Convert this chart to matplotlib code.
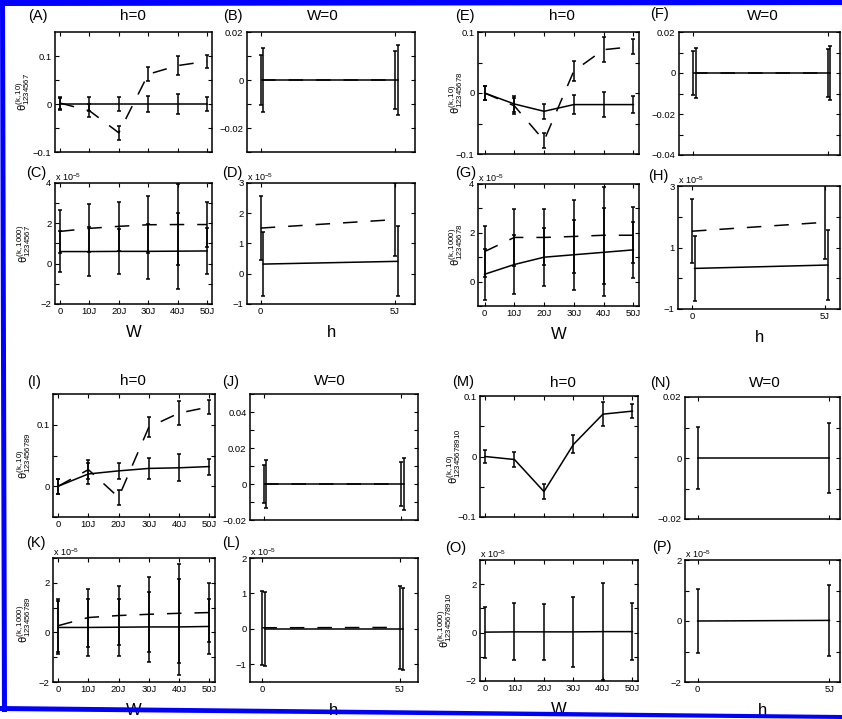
import matplotlib
matplotlib.use("Agg")
import matplotlib.pyplot as plt
from matplotlib.patches import Polygon
from matplotlib.ticker import FixedLocator, FixedFormatter

plt.rcParams["font.family"] = ["Liberation Sans", "DejaVu Sans"]
plt.rcParams["mathtext.fontset"] = "custom"
plt.rcParams["mathtext.rm"] = "Liberation Sans"
plt.rcParams["mathtext.it"] = "Liberation Sans"
plt.rcParams["axes.unicode_minus"] = True

W_PX, H_PX = 842, 719

# x values
w_vals = [0, 10, 20, 30, 40, 50]
w_labels = ["0", "10J", "20J", "30J", "40J", "50J"]
h_vals = [0, 5]
h_labels = ["0", "5J"]

# (A) h=0, k=10
a_solid = [0, 0, 0, 0, 0, 0]
a_solid_err = [0.012, 0.014, 0.014, 0.016, 0.021, 0.014]
a_dash = [0.002, -0.014, -0.06, 0.062, 0.08, 0.089]
a_dash_err = [0.012, 0.014, 0.014, 0.015, 0.02, 0.013]
# (B) W=0, k=10
b_solid = [0, 0]
b_solid_err = [0.0133, 0.0147]
b_dash = [0, 0]
b_dash_err = [0.0106, 0.012]
# (C) h=0, k=1000 (x 1e-5)
c_solid = [0.6, 0.6, 0.61, 0.61, 0.62, 0.63]
c_solid_err = [1.02, 1.2, 1.1, 1.38, 1.9, 1.16]
c_dash = [1.6, 1.75, 1.85, 1.93, 1.94, 1.94]
c_dash_err = [1.05, 1.19, 1.21, 1.42, 2.01, 1.13]
# (D) W=0, k=1000 (x 1e-5)
d_solid = [0.32, 0.41]
d_solid_err = [1.05, 1.16]
d_dash = [1.51, 1.79]
d_dash_err = [1.05, 1.2]
# (E)
e_solid = [0, -0.018, -0.03, -0.019, -0.019, -0.019]
e_solid_err = [0.012, 0.013, 0.0126, 0.016, 0.021, 0.014]
e_dash = [0, -0.021, -0.078, 0.036, 0.071, 0.076]
e_dash_err = [0.012, 0.013, 0.0125, 0.016, 0.02, 0.012]
# (F)
f_solid = [0, 0]
f_solid_err = [0.012, 0.0133]
f_dash = [0, 0]
f_dash_err = [0.0105, 0.0116]
# (G)
g_solid = [0.3, 0.7, 1.0, 1.1, 1.2, 1.3]
g_solid_err = [1.05, 1.19, 1.18, 1.44, 1.81, 1.16]
g_dash = [1.23, 1.81, 1.81, 1.85, 1.9, 1.9]
g_dash_err = [1.06, 1.16, 1.15, 1.48, 1.98, 1.15]
# (H)
h_solid = [0.32, 0.43]
h_solid_err = [1.05, 1.14]
h_dash = [1.53, 1.82]
h_dash_err = [1.05, 1.2]
# (I)
i_solid = [0, 0.02, 0.025, 0.029, 0.03, 0.032]
i_solid_err = [0.012, 0.017, 0.013, 0.017, 0.022, 0.013]
i_dash = [0, 0.027, -0.018, 0.096, 0.119, 0.129]
i_dash_err = [0.012, 0.015, 0.012, 0.016, 0.02, 0.012]
# (J)
j_solid = [0, 0]
j_solid_err = [0.0135, 0.0147]
j_dash = [0, 0]
j_dash_err = [0.0106, 0.012]
# (K)
k_solid = [0.2, 0.2, 0.21, 0.22, 0.22, 0.24]
k_solid_err = [1.07, 1.15, 1.15, 1.42, 1.93, 1.12]
k_dash = [0.27, 0.6, 0.68, 0.73, 0.77, 0.8]
k_dash_err = [1.06, 1.17, 1.18, 1.51, 1.99, 1.2]
# (L)
l_solid = [0, 0]
l_solid_err = [1.05, 1.16]
l_dash = [0.03, 0.04]
l_dash_err = [1.04, 1.18]
# (M)-(P): single series
m_vals = [0, -0.005, -0.058, 0.02, 0.07, 0.075]
m_err = [0.011, 0.012, 0.012, 0.015, 0.02, 0.012]
n_vals = [0, 0]
n_err = [0.0103, 0.0116]
o_vals = [0.02, 0.03, 0.03, 0.03, 0.04, 0.04]
o_err = [1.05, 1.18, 1.17, 1.45, 2.0, 1.17]
p_vals = [0, 0.02]
p_err = [1.05, 1.17]

DASH = (0, (9.5, 8.5))
LW = 1.1


def px_axes(fig, l, t, r, b):
    return fig.add_axes([l / W_PX, 1 - b / H_PX, (r - l) / W_PX, (b - t) / H_PX])


def series(ax, x, y, err, ls="-"):
    ax.plot(x, y, color="k", lw=LW, ls=ls)
    ax.errorbar(x, y, yerr=err, fmt="none", ecolor="k", elinewidth=LW,
                capsize=1.6, capthick=LW)


def style(ax, box, xlim, ylim, yticks, ylabels, yminor, xticks, xlabels, show_x):
    ax.set_xlim(*xlim)
    ax.set_ylim(*ylim)
    ax.xaxis.set_major_locator(FixedLocator(xticks))
    ax.xaxis.set_major_formatter(FixedFormatter(xlabels if show_x else [""] * len(xticks)))
    ax.yaxis.set_major_locator(FixedLocator(yticks))
    ax.yaxis.set_major_formatter(FixedFormatter(ylabels))
    ax.yaxis.set_minor_locator(FixedLocator(yminor))
    ax.tick_params(which="both", direction="in", length=3, width=0.8,
                   top=True, right=True, labelsize=6.8, pad=2.5, colors="k")
    for s in ax.spines.values():
        s.set_linewidth(1.1)


fig = plt.figure(figsize=(W_PX / 100, H_PX / 100), dpi=100)

m = "\u2212"
W_XLIM = (-1.7, 51.7)

# ---- (A)
ax = px_axes(fig, 55, 32, 212, 152)
series(ax, w_vals, a_solid, a_solid_err)
series(ax, w_vals, a_dash, a_dash_err, DASH)
style(ax, None, W_XLIM, (-0.1, 0.15), [-0.1, 0, 0.1], [m + "0.1", "0", "0.1"],
      [-0.05, 0.05], w_vals, w_labels, False)
ax.set_ylabel(r"$\theta^{(k,10)}_{1234567}$", fontsize=8)
ax.yaxis.set_label_coords((32 - 55) / 157, 0.5)

# ---- (B)
ax = px_axes(fig, 247, 32, 415, 152)
series(ax, [x + 0.1 for x in h_vals], b_solid, b_solid_err)
series(ax, h_vals, b_dash, b_dash_err, DASH)
style(ax, None, (-0.51, 5.75), (-0.03, 0.02), [-0.02, 0, 0.02],
      [m + "0.02", "0", "0.02"], [-0.03, -0.01, 0.01], h_vals, h_labels, False)

# ---- (C)
ax = px_axes(fig, 55, 183, 212, 304)
series(ax, w_vals, c_solid, c_solid_err)
series(ax, w_vals, c_dash, c_dash_err, DASH)
style(ax, None, W_XLIM, (-2, 4), [-2, 0, 2, 4], [m + "2", "0", "2", "4"],
      [-1, 1, 3], w_vals, w_labels, True)
ax.set_ylabel(r"$\theta^{(k,1000)}_{1234567}$", fontsize=8)
ax.yaxis.set_label_coords((33 - 55) / 157, 0.5)
ax.set_xlabel("W", fontsize=12)

# ---- (D)
ax = px_axes(fig, 247, 183, 415, 304)
series(ax, [x + 0.1 for x in h_vals], d_solid, d_solid_err)
series(ax, h_vals, d_dash, d_dash_err, DASH)
style(ax, None, (-0.51, 5.75), (-1, 3), [-1, 0, 1, 2, 3],
      [m + "1", "0", "1", "2", "3"], [], h_vals, h_labels, True)
ax.set_xlabel("h", fontsize=12)

# ---- (E)
ax = px_axes(fig, 478, 32, 639, 154)
series(ax, w_vals, e_solid, e_solid_err)
series(ax, w_vals, e_dash, e_dash_err, DASH)
style(ax, None, (-2.2, 51.9), (-0.1, 0.1), [-0.1, 0, 0.1], [m + "0.1", "0", "0.1"],
      [-0.05, 0.05], w_vals, w_labels, False)
ax.set_ylabel(r"$\theta^{(k,10)}_{12345678}$", fontsize=8)
ax.yaxis.set_label_coords((465 - 478) / 161, 0.5)

# ---- (F)
ax = px_axes(fig, 679, 32, 840, 155)
series(ax, [x + 0.1 for x in h_vals], f_solid, f_solid_err)
series(ax, h_vals, f_dash, f_dash_err, DASH)
style(ax, None, (-0.52, 5.46), (-0.04, 0.02), [-0.04, -0.02, 0, 0.02],
      [m + "0.04", m + "0.02", "0", "0.02"], [-0.03, -0.01, 0.01], h_vals, h_labels, False)

# ---- (G)
ax = px_axes(fig, 478, 184, 639, 306)
series(ax, w_vals, g_solid, g_solid_err)
series(ax, w_vals, g_dash, g_dash_err, DASH)
style(ax, None, (-2.2, 51.9), (-1, 4), [0, 2, 4], ["0", "2", "4"],
      [-1, 1, 3], w_vals, w_labels, True)
ax.set_ylabel(r"$\theta^{(k,1000)}_{12345678}$", fontsize=8)
ax.yaxis.set_label_coords((465 - 478) / 161, 0.5)
ax.set_xlabel("W", fontsize=12)

# ---- (H)
ax = px_axes(fig, 678, 186, 840, 309)
series(ax, [x + 0.1 for x in h_vals], h_solid, h_solid_err)
series(ax, h_vals, h_dash, h_dash_err, DASH)
style(ax, None, (-0.525, 5.56), (-1, 3), [-1, 1, 3], [m + "1", "1", "3"],
      [0, 2], h_vals, h_labels, True)
ax.set_xlabel("h", fontsize=12)

# ---- (I)
ax = px_axes(fig, 53, 394, 215, 517)
series(ax, w_vals, i_solid, i_solid_err)
series(ax, w_vals, i_dash, i_dash_err, DASH)
style(ax, None, (-1.7, 51.9), (-0.05, 0.15), [0, 0.1], ["0", "0.1"],
      [-0.05, 0.05, 0.15], w_vals, w_labels, True)
ax.set_ylabel(r"$\theta^{(k,10)}_{123456789}$", fontsize=8)
ax.yaxis.set_label_coords((33 - 53) / 162, 0.5)

# ---- (J)
ax = px_axes(fig, 250, 394, 418, 520)
series(ax, [x + 0.1 for x in h_vals], j_solid, j_solid_err)
series(ax, h_vals, j_dash, j_dash_err, DASH)
style(ax, None, (-0.49, 5.6), (-0.02, 0.05), [-0.02, 0, 0.02, 0.04],
      [m + "0.02", "0", "0.02", "0.04"], [-0.01, 0.01, 0.03, 0.05], h_vals, h_labels, False)

# ---- (K)
ax = px_axes(fig, 53, 558, 215, 682)
series(ax, w_vals, k_solid, k_solid_err)
series(ax, w_vals, k_dash, k_dash_err, DASH)
style(ax, None, (-1.7, 51.9), (-2, 3), [-2, 0, 2], [m + "2", "0", "2"],
      [-1, 1, 3], w_vals, w_labels, True)
ax.set_ylabel(r"$\theta^{(k,1000)}_{123456789}$", fontsize=8)
ax.yaxis.set_label_coords((33 - 53) / 162, 0.5)
ax.set_xlabel("W", fontsize=12)

# ---- (L)
ax = px_axes(fig, 250, 558, 418, 682)
series(ax, [x + 0.1 for x in h_vals], l_solid, l_solid_err)
series(ax, h_vals, l_dash, l_dash_err, DASH)
style(ax, None, (-0.45, 5.66), (-1.5, 2), [-1, 0, 1, 2],
      [m + "1", "0", "1", "2"], [], h_vals, h_labels, True)
ax.set_xlabel("h", fontsize=12)

# ---- (M)
ax = px_axes(fig, 480, 396, 638, 517)
series(ax, w_vals, m_vals, m_err)
style(ax, None, (-1.7, 51.9), (-0.1, 0.1), [-0.1, 0, 0.1], [m + "0.1", "0", "0.1"],
      [-0.05, 0.05], w_vals, w_labels, False)
ax.set_ylabel(r"$\theta^{(k,10)}_{12345678910}$", fontsize=8)
ax.yaxis.set_label_coords((463 - 480) / 158, 0.5)

# ---- (N)
ax = px_axes(fig, 685, 397, 840, 519)
series(ax, h_vals, n_vals, n_err)
style(ax, None, (-0.5, 5.4), (-0.02, 0.02), [-0.02, 0, 0.02],
      [m + "0.02", "0", "0.02"], [-0.01, 0.01], h_vals, h_labels, False)

# ---- (O)
ax = px_axes(fig, 480, 560, 638, 681)
series(ax, w_vals, o_vals, o_err)
style(ax, None, (-1.7, 51.9), (-2, 3), [-2, 0, 2], [m + "2", "0", "2"],
      [-1, 1, 3], w_vals, w_labels, True)
ax.set_ylabel(r"$\theta^{(k,1000)}_{12345678910}$", fontsize=8)
ax.yaxis.set_label_coords((454 - 480) / 158, 0.5)
ax.set_xlabel("W", fontsize=12)

# ---- (P)
ax = px_axes(fig, 685, 560, 840, 682)
series(ax, h_vals, p_vals, p_err)
style(ax, None, (-0.48, 5.4), (-2, 2), [-2, 0, 2], [m + "2", "0", "2"],
      [-1, 1], h_vals, h_labels, True)
ax.set_xlabel("h", fontsize=12)

for a in fig.axes:
    a.xaxis.labelpad = 6

# scale factor text above the 1e-5 panels
for a in [fig.axes[i] for i in (2, 3, 6, 7, 10, 11, 14, 15)]:
    a.text(0.0, 1.0, r"x 10$^{-5}$", transform=a.transAxes, fontsize=6.5,
           ha="left", va="bottom")


def ftext(x, y, s, **kw):
    fig.text(x / W_PX, 1 - y / H_PX, s, va="center", **kw)


panel_tags = ["(A)", "(B)", "(C)", "(D)", "(E)", "(F)", "(G)", "(H)",
              "(I)", "(J)", "(K)", "(L)", "(M)", "(N)", "(O)", "(P)"]
tag_xy = [(28, 16), (223, 16), (26, 173), (222, 173), (455, 16), (650, 14),
          (455, 173), (648, 176), (27, 382), (222, 382), (26, 543), (222, 543),
          (452, 382), (650, 383), (445, 548), (652, 547)]
for s, (x, y) in zip(panel_tags, tag_xy):
    ftext(x, y, s, ha="left", fontsize=10.5)

titles = ["h=0", "W=0", "h=0", "W=0", "h=0", "W=0", "h=0", "W=0"]
title_xy = [(133, 16), (323, 16), (562, 16), (763, 16),
            (133, 381), (330, 381), (563, 383), (765, 383)]
for s, (x, y) in zip(titles, title_xy):
    ftext(x, y, s, ha="center", fontsize=11)

# blue frame
frame = dict(transform=None, facecolor="#0000ff", edgecolor="none", zorder=10)
to_disp = lambda pts: [(x, H_PX - y) for x, y in pts]
fig.patches.append(Polygon(to_disp([(0, 0), (842, 0), (842, 5), (0, 6)]), closed=True, **frame))
fig.patches.append(Polygon(to_disp([(0, 0), (5, 0), (7, 712), (2, 712)]), closed=True, **frame))
fig.patches.append(Polygon(to_disp([(0, 706), (842, 715), (842, 719), (0, 711)]), closed=True, **frame))

fig.savefig("out.png", dpi=100)
